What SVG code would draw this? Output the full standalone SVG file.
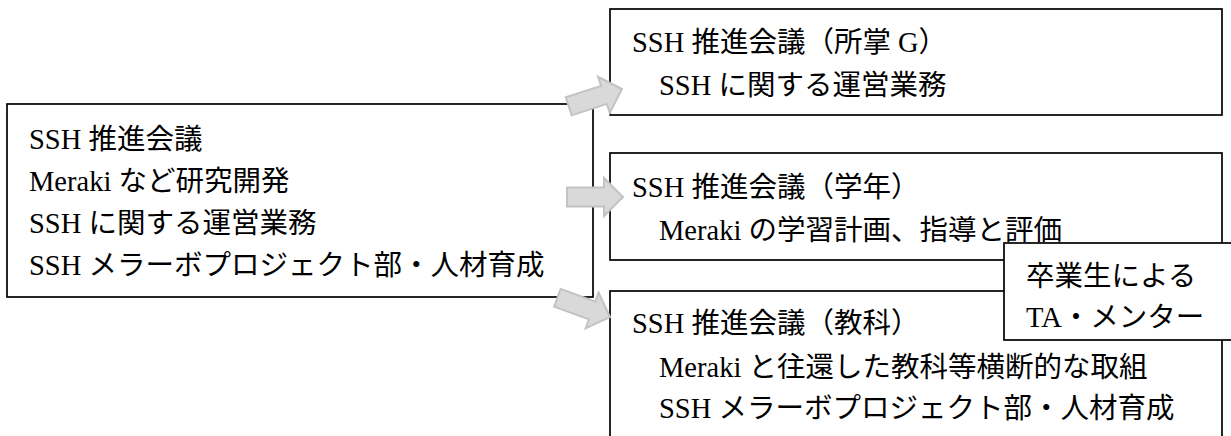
<svg xmlns="http://www.w3.org/2000/svg" width="1231" height="436" viewBox="0 0 1231 436">
<defs>
<style>
.box{fill:#ffffff;stroke:#000000;stroke-width:1.7}
.t{font-family:"Liberation Serif","Noto Sans CJK JP",serif;font-size:28.5px;fill:#000000}
.arr{fill:#d9d9d9;stroke:#c3c3c3;stroke-width:2;stroke-linejoin:miter}
</style>
<path id="arrow" d="M-56,-9.5 L-19,-9.5 L-19,-19 L0,0 L-19,19 L-19,9.5 L-56,9.5 Z"/>
</defs>
<rect width="1231" height="436" fill="#ffffff"/>
<g id="node-main">
<rect class="box" x="7" y="104" width="586" height="193"/>
<text class="t" x="29" y="149">SSH 推進会議</text>
<text class="t" x="29" y="191">Meraki など研究開発</text>
<text class="t" x="29" y="233">SSH に関する運営業務</text>
<text class="t" x="29" y="275">SSH メラーボプロジェクト部・人材育成</text>
</g>
<g id="node-shosho">
<rect class="box" x="610" y="9" width="612" height="106"/>
<text class="t" x="632" y="52">SSH 推進会議（所掌 G）</text>
<text class="t" x="659" y="95">SSH に関する運営業務</text>
</g>
<g id="node-gakunen">
<rect class="box" x="610" y="153" width="612" height="107"/>
<text class="t" x="632" y="197">SSH 推進会議（学年）</text>
<text class="t" x="659" y="240">Meraki の学習計画、指導と評価</text>
</g>
<g id="node-kyoka">
<rect class="box" x="610" y="291" width="612" height="160"/>
<text class="t" x="632" y="333">SSH 推進会議（教科）</text>
<text class="t" x="659" y="377">Meraki と往還した教科等横断的な取組</text>
<text class="t" x="659" y="418">SSH メラーボプロジェクト部・人材育成</text>
</g>
<g id="node-ta">
<rect class="box" x="1004" y="243" width="240" height="97"/>
<text class="t" x="1026" y="286">卒業生による</text>
<text class="t" x="1026" y="327">TA・メンター</text>
</g>
<g id="connectors">
<use href="#arrow" class="arr" transform="translate(622,89) rotate(-18)"/>
<use href="#arrow" class="arr" transform="translate(623,197)"/>
<use href="#arrow" class="arr" transform="translate(610,317) rotate(20)"/>
</g>
</svg>
